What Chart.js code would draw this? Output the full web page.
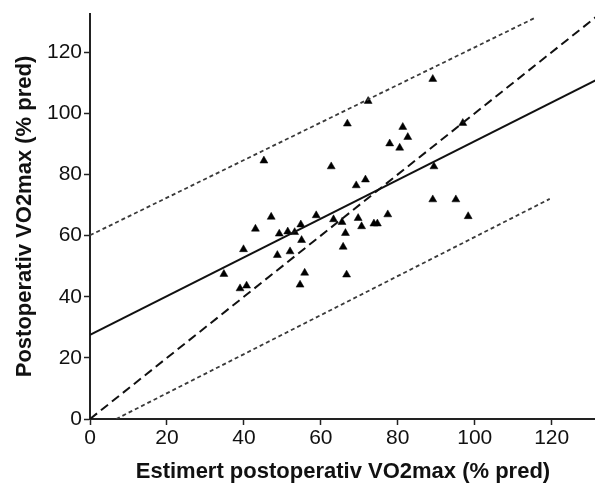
<!DOCTYPE html>
<html>
<head>
<meta charset="utf-8">
<script src="https://cdn.jsdelivr.net/npm/chart.js@4/dist/chart.umd.min.js"></script>
<style>
  html, body { margin: 0; padding: 0; background: #fff; overflow: hidden; }
  #wrap { width: 595px; height: 486px; overflow: hidden; }
</style>
</head>
<body>
<div id="wrap"><canvas id="c" width="601" height="486"></canvas></div>
<script>
// Observed points: estimated vs measured postoperative VO2max (% pred)
const estX = [34.8, 39.0, 40.7, 39.9, 43.0, 47.1, 49.2, 51.4, 53.2, 54.8, 55.0, 48.7, 52.0, 55.8, 54.6,
              58.8, 63.3, 65.5, 66.4, 65.8, 66.7, 69.7, 70.6, 73.8, 74.7, 77.4, 98.3, 89.1, 72.3, 66.9,
              81.3, 82.6, 77.9, 80.5, 96.9, 89.4, 62.7, 71.6, 69.2, 89.1, 95.1, 45.2];
const measY = [47.4, 42.7, 43.6, 55.5, 62.2, 66.1, 60.6, 61.3, 61.1, 63.6, 58.5, 53.6, 54.8, 47.8, 43.9,
               66.6, 65.3, 64.4, 60.8, 56.3, 47.2, 65.7, 63.0, 63.9, 63.9, 66.9, 66.3, 111.2, 104.0, 96.6,
               95.5, 92.2, 90.1, 88.7, 96.8, 82.6, 82.6, 78.3, 76.4, 71.8, 71.8, 84.5];

// Reference lines (end points in data units)
const regX = [0, 132];     const regY = [27.5, 111.2];   // regression line
const idX = [0, 132];      const idY = [0, 132];         // line of identity
const upX = [0, 115.6];    const upY = [60.1, 131.2];    // upper prediction limit
const loX = [6.8, 119.5];  const loY = [0, 72.0];        // lower prediction limit

const xTicks = [0, 20, 40, 60, 80, 100, 120];
const yTicks = [0, 20, 40, 60, 80, 100, 120];
const xTitle = 'Estimert postoperativ VO2max (% pred)';
const yTitle = 'Postoperativ VO2max (% pred)';

const toPts = (xs, ys) => xs.map((x, i) => ({x: x, y: ys[i]}));

const lineDS = (xs, ys, width, dash, color) => ({
  type: 'line',
  data: toPts(xs, ys),
  borderColor: color,
  borderWidth: width,
  borderDash: dash,
  pointRadius: 0,
  fill: false,
  tension: 0,
  clip: 0
});

const tickFont = {family: '"Liberation Sans", Arial, sans-serif', size: 21};
const titleFont = {family: '"Liberation Sans", Arial, sans-serif', size: 22, weight: 'bold'};

new Chart(document.getElementById('c'), {
  type: 'scatter',
  data: {
    datasets: [
      lineDS(upX, upY, 1.8, [4, 3], '#3a3a3a'),
      lineDS(loX, loY, 1.8, [4, 3], '#3a3a3a'),
      lineDS(idX, idY, 2, [9, 5], '#111'),
      lineDS(regX, regY, 2, [], '#111'),
      {
        type: 'scatter',
        data: toPts(estX, measY),
        pointStyle: 'triangle',
        pointRadius: 4.6,
        backgroundColor: '#000',
        borderColor: '#000',
        borderWidth: 0.5,
        clip: 0
      }
    ]
  },
  options: {
    responsive: false,
    animation: false,
    events: [],
    layout: {padding: {top: 14, right: 0, left: 0, bottom: 0}},
    plugins: {legend: {display: false}, tooltip: {enabled: false}},
    scales: {
      x: {
        type: 'linear',
        min: 0, max: 131.5,
        afterBuildTicks: s => { s.ticks = xTicks.map(v => ({value: v})); },
        afterFit: s => { s.height = 67; s.paddingLeft = 0; s.paddingRight = 0; },
        grid: {display: true, drawOnChartArea: false, drawTicks: true, tickLength: 6, tickColor: '#222', tickWidth: 1.5},
        border: {display: true, color: '#222', width: 2},
        ticks: {color: '#111', font: tickFont, padding: 1, maxRotation: 0},
        title: {display: true, text: xTitle, color: '#111', font: titleFont, padding: {top: 0, bottom: 1}}
      },
      y: {
        type: 'linear',
        min: 0, max: 132.5,
        afterBuildTicks: s => { s.ticks = yTicks.map(v => ({value: v})); },
        afterFit: s => { s.width = 90; s.paddingTop = 0; s.paddingBottom = 0; },
        grid: {display: true, drawOnChartArea: false, drawTicks: true, tickLength: 6, tickColor: '#222', tickWidth: 1.5},
        border: {display: true, color: '#222', width: 2},
        ticks: {color: '#111', font: tickFont, padding: 2},
        title: {display: true, text: yTitle, color: '#111', font: titleFont, padding: {top: 12, bottom: 0}}
      }
    }
  }
});
</script>
</body>
</html>
